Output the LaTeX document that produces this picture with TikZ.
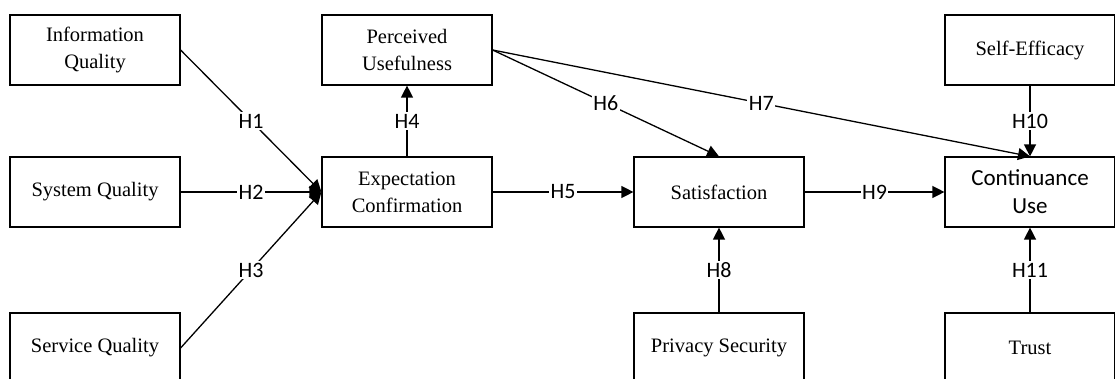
\documentclass[tikz,border=0pt]{standalone}
\usepackage{fontspec}
\setmainfont{Liberation Serif}
\newfontfamily\calibri{Carlito}
\usetikzlibrary{arrows.meta}

\begin{document}
\begin{tikzpicture}[x=1pt, y=-1pt,
  box/.style={draw, line width=1.2pt, rectangle, minimum width=170pt, minimum height=70pt, align=center, font=\fontsize{20.5}{27}\selectfont},
  hyp/.style={fill=white, inner sep=1.5pt, font=\calibri\fontsize{22}{26}\selectfont},
  arr/.style={line width=1.3pt, -{Triangle[length=12pt, width=12pt]}}]
\useasboundingbox (0,0) rectangle (1115,379);
\clip (0,0) rectangle (1115,379);
\pgfmathsetmacro{\colA}{95}
\pgfmathsetmacro{\colB}{407}
\pgfmathsetmacro{\colC}{719}
\pgfmathsetmacro{\colD}{1030}

% Constructs
\node[box] (info) at (\colA,50) {Information\\Quality};
\node[box] (sysq) at (\colA,192) {System Quality};
\node[box] (servq) at (\colA,348) {Service Quality};
\node[box] (pu) at (\colB,50) {Perceived\\Usefulness};
\node[box] (ec) at (\colB,192) {Expectation\\Confirmation};
\node[box] (sat) at (\colC,192) {Satisfaction};
\node[box] (priv) at (\colC,348) {Privacy Security};
\node[box] (se) at (\colD,50) {Self-Efficacy};
\node[box, font=\calibri\fontsize{23}{28}\selectfont] (cu) at (\colD,192) {Continuance\\Use};
\node[box] (trust) at (\colD,348) {Trust};

% Hypotheses
\draw[arr] (info.east) -- node[hyp]{H1} (ec.west);
\draw[arr] (sysq.east) -- node[hyp]{H2} (ec.west);
\draw[arr] (servq.east) -- node[hyp]{H3} (ec.west);
\draw[arr] (ec.north) -- node[hyp]{H4} (pu.south);
\draw[arr] (ec.east) -- node[hyp]{H5} (sat.west);
\draw[arr] (pu.east) -- node[hyp]{H6} (sat.north);
\draw[arr] (pu.east) -- node[hyp]{H7} (cu.north);
\draw[arr] (priv.north) -- node[hyp]{H8} (sat.south);
\draw[arr] (sat.east) -- node[hyp]{H9} (cu.west);
\draw[arr] (se.south) -- node[hyp]{H10} (cu.north);
\draw[arr] (trust.north) -- node[hyp]{H11} (cu.south);
\end{tikzpicture}
\end{document}
